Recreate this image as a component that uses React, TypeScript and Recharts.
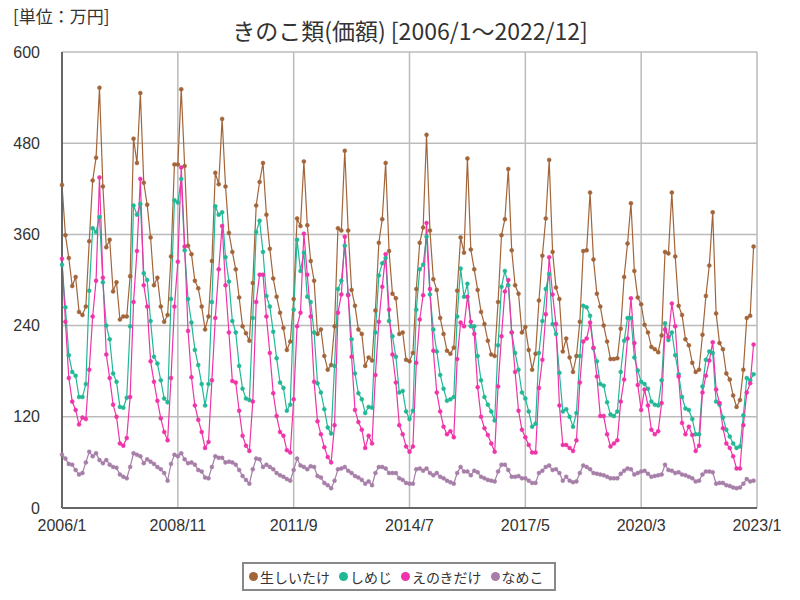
import React from 'react';
import { LineChart, Line, XAxis, YAxis, CartesianGrid } from 'recharts';

// monthly values, 2006/1 .. 2022/12 (万円)
const shiitake = [
  425, 359, 329, 292, 304, 258, 254, 265, 351, 431, 461, 553,
  423, 343, 353, 285, 297, 248, 252, 252, 305, 486, 454, 546,
  428, 399, 356, 293, 303, 265, 245, 254, 331, 452, 452, 551,
  450, 345, 334, 299, 289, 265, 235, 252, 325, 441, 426, 512,
  423, 362, 337, 314, 277, 239, 230, 220, 296, 398, 429, 454,
  386, 341, 302, 278, 257, 237, 208, 219, 275, 381, 371, 456,
  372, 325, 299, 229, 235, 200, 182, 188, 239, 368, 365, 470,
  365, 287, 266, 235, 229, 187, 198, 194, 260, 349, 380, 454,
  338, 282, 276, 229, 231, 195, 193, 204, 288, 349, 369, 491,
  365, 301, 287, 250, 229, 207, 203, 211, 286, 356, 336, 460,
  340, 314, 287, 258, 242, 220, 202, 200, 271, 359, 380, 446,
  339, 293, 282, 231, 238, 208, 182, 203, 273, 332, 381, 458,
  337, 290, 275, 206, 223, 198, 179, 200, 245, 338, 339, 415,
  327, 282, 265, 240, 219, 196, 196, 197, 236, 304, 348, 401,
  312, 277, 268, 241, 231, 212, 209, 205, 227, 337, 335, 415,
  331, 266, 254, 222, 214, 191, 179, 182, 228, 279, 319, 389,
  256, 217, 209, 177, 169, 148, 133, 142, 182, 250, 253, 344,
];

const shimeji = [
  320, 264, 201, 179, 174, 146, 146, 163, 286, 368, 363, 383,
  297, 240, 222, 177, 166, 133, 132, 145, 239, 398, 386, 400,
  309, 300, 246, 199, 190, 168, 144, 139, 275, 405, 402, 433,
  339, 275, 244, 208, 188, 163, 135, 163, 271, 397, 386, 389,
  330, 298, 246, 231, 187, 157, 144, 142, 250, 363, 378, 337,
  279, 265, 232, 197, 165, 158, 128, 136, 261, 353, 312, 336,
  278, 271, 231, 164, 152, 130, 106, 98, 187, 288, 299, 345,
  281, 222, 177, 151, 143, 125, 133, 132, 231, 306, 322, 329,
  246, 226, 199, 152, 154, 127, 117, 128, 261, 314, 320, 357,
  281, 235, 206, 175, 157, 141, 143, 146, 252, 315, 278, 295,
  239, 239, 200, 168, 146, 136, 127, 115, 214, 291, 312, 293,
  231, 204, 182, 152, 144, 127, 107, 111, 204, 246, 288, 308,
  242, 229, 178, 127, 130, 120, 107, 125, 200, 266, 264, 253,
  210, 193, 163, 161, 139, 123, 121, 127, 179, 220, 250, 250,
  198, 181, 166, 163, 157, 140, 136, 135, 168, 243, 221, 231,
  201, 176, 146, 131, 129, 117, 97, 97, 160, 195, 206, 204,
  140, 136, 119, 103, 94, 85, 79, 81, 122, 171, 168, 176,
];

const enoki = [
  328, 245, 171, 140, 129, 110, 119, 117, 182, 252, 299, 435,
  303, 202, 171, 136, 120, 85, 82, 92, 146, 271, 338, 433,
  293, 265, 193, 166, 141, 118, 100, 89, 171, 265, 324, 448,
  344, 233, 172, 135, 116, 100, 79, 87, 168, 250, 314, 371,
  293, 231, 167, 165, 128, 95, 82, 75, 140, 271, 307, 307,
  252, 204, 151, 121, 100, 95, 76, 73, 143, 239, 257, 361,
  307, 252, 166, 114, 97, 80, 67, 60, 109, 257, 281, 357,
  280, 199, 129, 113, 103, 79, 95, 85, 175, 245, 291, 334,
  261, 202, 165, 109, 97, 81, 74, 81, 191, 248, 280, 375,
  288, 207, 152, 127, 107, 97, 101, 93, 196, 244, 239, 278,
  245, 229, 159, 120, 105, 96, 85, 74, 160, 226, 285, 300,
  231, 179, 128, 103, 93, 83, 73, 73, 158, 195, 255, 330,
  281, 242, 135, 83, 83, 79, 75, 89, 165, 219, 223, 244,
  211, 173, 121, 121, 97, 81, 85, 89, 140, 169, 223, 276,
  217, 162, 129, 156, 135, 103, 97, 101, 138, 235, 225, 269,
  239, 173, 112, 97, 107, 96, 75, 82, 152, 174, 194, 218,
  156, 138, 105, 85, 79, 68, 52, 52, 109, 152, 164, 215,
];

const nameko = [
  70, 65, 58, 57, 50, 44, 46, 60, 74, 68, 72, 63,
  59, 63, 57, 54, 53, 44, 41, 39, 54, 72, 70, 68,
  59, 64, 61, 58, 54, 51, 46, 36, 58, 70, 68, 72,
  64, 59, 60, 57, 50, 48, 40, 39, 54, 68, 66, 66,
  60, 61, 60, 57, 50, 42, 37, 32, 51, 65, 64, 54,
  57, 54, 51, 46, 43, 41, 38, 36, 50, 65, 56, 54,
  51, 55, 54, 42, 40, 33, 30, 26, 36, 51, 52, 54,
  49, 46, 42, 40, 37, 32, 35, 30, 46, 54, 54, 52,
  46, 46, 46, 39, 37, 33, 32, 32, 51, 52, 49, 52,
  46, 43, 46, 41, 39, 36, 34, 32, 46, 54, 48, 48,
  43, 49, 47, 41, 39, 37, 36, 35, 48, 57, 57, 50,
  41, 41, 42, 39, 39, 36, 33, 33, 46, 49, 54, 56,
  50, 51, 46, 36, 41, 36, 34, 35, 46, 56, 54, 51,
  46, 45, 44, 43, 41, 39, 39, 39, 45, 49, 52, 51,
  44, 46, 48, 49, 45, 41, 42, 43, 44, 57, 50, 49,
  46, 47, 44, 43, 41, 39, 35, 36, 44, 48, 48, 47,
  32, 33, 33, 30, 29, 27, 26, 27, 32, 38, 35, 36,
];

const xTicks = [0, 34, 68, 102, 136, 170, 204];
const xTickLabels = ['2006/1', '2008/11', '2011/9', '2014/7', '2017/5', '2020/3', '2023/1'];
const yTicks = [0, 120, 240, 360, 480, 600];

const series = [
  { key: 'shiitake', name: '生しいたけ', color: '#a2653a', values: shiitake },
  { key: 'shimeji', name: 'しめじ', color: '#22b896', values: shimeji },
  { key: 'enoki', name: 'えのきだけ', color: '#ee34a8', values: enoki },
  { key: 'nameko', name: 'なめこ', color: '#a67ea8', values: nameko },
];

// one row per month, x = months since 2006/1
const data = shiitake.map((_, i) => {
  const row: Record<string, number> = { i };
  series.forEach(s => { row[s.key] = s.values[i]; });
  return row;
});

const tickFont = '"Liberation Sans Narrow", "Liberation Sans", sans-serif';
const jpFont = '"Noto Sans CJK JP", sans-serif';

export default function App() {
  return (
    <div style={{ position: 'absolute', left: 0, top: 0, width: 800, height: 600, background: '#fff' }}>
      <div style={{ position: 'absolute', left: 13, top: 3, fontFamily: jpFont, fontSize: 17, color: '#333', whiteSpace: 'nowrap' }}>
        [単位：万円]
      </div>
      <div style={{ position: 'absolute', left: 0, width: 820, top: 13, textAlign: 'center', fontFamily: jpFont, fontSize: 23, color: '#333', whiteSpace: 'nowrap' }}>
        きのこ類(価額) [2006/1～2022/12]
      </div>
      <LineChart width={800} height={600} data={data} margin={{ top: 52, right: 43, left: 12, bottom: 62 }}>
        <CartesianGrid stroke="#bbbbbb" strokeWidth={1.5} />
        <XAxis
          type="number"
          dataKey="i"
          domain={[0, 204]}
          ticks={xTicks}
          tickFormatter={(v: number) => xTickLabels[xTicks.indexOf(v)]}
          axisLine={{ stroke: '#666', strokeWidth: 2 }}
          tickLine={false}
          tick={{ fill: '#333', fontSize: 16, fontFamily: tickFont }}
          tickMargin={6}
          height={30}
          interval={0}
        />
        <YAxis
          domain={[0, 600]}
          ticks={yTicks}
          axisLine={{ stroke: '#666', strokeWidth: 2 }}
          tickLine={false}
          tick={{ fill: '#333', fontSize: 16, fontFamily: tickFont }}
          tickMargin={16}
          width={50}
          interval={0}
        />
        {series.map(s => (
          <Line
            key={s.key}
            type="linear"
            dataKey={s.key}
            stroke={s.color}
            strokeWidth={1.2}
            dot={{ r: 2, fill: s.color, stroke: s.color, strokeWidth: 0.5 }}
            isAnimationActive={false}
          />
        ))}
      </LineChart>
      <div
        style={{
          position: 'absolute', left: 242, top: 562, width: 314, height: 29,
          border: '2px solid #888', display: 'flex', alignItems: 'center',
          fontFamily: jpFont, fontSize: 14, color: '#333', boxSizing: 'border-box', paddingLeft: 5,
          whiteSpace: 'nowrap',
        }}
      >
        {series.map(s => (
          <span key={s.key} style={{ display: 'flex', alignItems: 'center', marginRight: 9, flexShrink: 0 }}>
            <span style={{ width: 9, height: 9, borderRadius: '50%', background: s.color, marginRight: 2, flexShrink: 0 }} />
            {s.name}
          </span>
        ))}
      </div>
    </div>
  );
}
